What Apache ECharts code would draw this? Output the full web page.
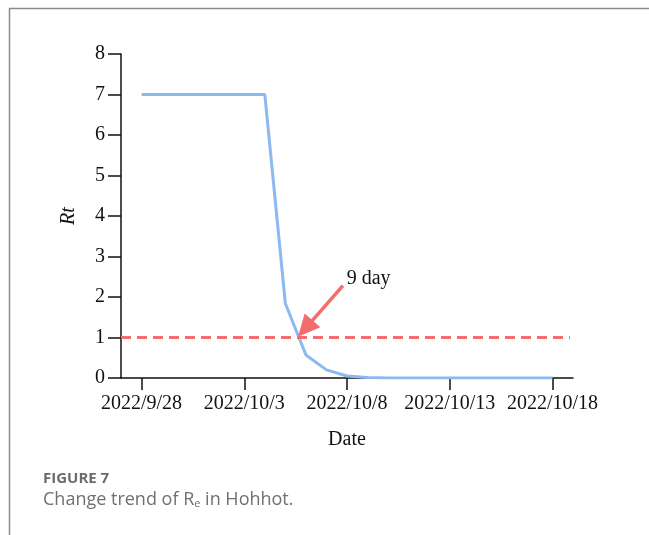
<!DOCTYPE html>
<html>
<head>
<meta charset="utf-8">
<title>Change trend of Re in Hohhot</title>
<script src="https://cdn.jsdelivr.net/npm/echarts@6/dist/echarts.min.js"></script>
<style>
  html, body { margin: 0; padding: 0; background: #fff; }
  #chart { width: 649px; height: 535px; }
</style>
</head>
<body>
<div id="chart"></div>
<script>
// day 0 = 2022/9/28
var dates = ["2022/9/28", "2022/9/29", "2022/9/30", "2022/10/1", "2022/10/2", "2022/10/3", "2022/10/4",
  "2022/10/5", "2022/10/6", "2022/10/7", "2022/10/8", "2022/10/9", "2022/10/10", "2022/10/11",
  "2022/10/12", "2022/10/13", "2022/10/14", "2022/10/15", "2022/10/16", "2022/10/17", "2022/10/18"]
var rtValues = [7, 7, 7, 7, 7, 7, 7, 1.84, 0.57, 0.2, 0.05, 0.01, 0, 0, 0, 0, 0, 0, 0, 0, 0]
var tickDays = [0, 5, 10, 15, 20]
var threshold = 1
// arrow from the label towards where Rt crosses 1 (end = centre of the arrow head)
var arrowFrom = [9.8, 2.28]
var arrowHead = [7.97, 1.22]
var arrowLabel = "9 day"
var arrowLabelAt = [11.05, 2.46]

var serif = "Liberation Serif"
var red = "#f46d6d"

var chart = echarts.init(document.getElementById("chart"))

var option = {
  animation: false,
  grid: { left: 121, right: 76, top: 54, bottom: 157 },
  xAxis: {
    type: "value",
    min: -1,
    max: 21,
    name: "Date",
    nameLocation: "middle",
    nameGap: 52,
    nameTextStyle: { fontFamily: serif, fontSize: 20, color: "#111" },
    splitLine: { show: false },
    axisLine: { onZero: false, lineStyle: { color: "#111", width: 1.5 } },
    axisTick: { show: true, customValues: tickDays, length: 12, lineStyle: { color: "#111", width: 1.5 } },
    axisLabel: {
      customValues: tickDays,
      margin: 16,
      fontFamily: serif,
      fontSize: 20,
      color: "#111",
      formatter: function (v) { return dates[v] }
    }
  },
  yAxis: {
    type: "value",
    min: 0,
    max: 8,
    interval: 1,
    name: "Rt",
    nameLocation: "middle",
    nameGap: 42,
    nameTextStyle: { fontFamily: serif, fontSize: 20, fontStyle: "italic", color: "#111" },
    splitLine: { show: false },
    axisLine: { show: true, onZero: false, lineStyle: { color: "#111", width: 1.5 } },
    axisTick: { show: true, length: 13, lineStyle: { color: "#111", width: 1.5 } },
    axisLabel: { margin: 16, fontFamily: serif, fontSize: 20, color: "#111" }
  },
  series: [
    {
      type: "line",
      data: rtValues.map(function (v, i) { return [i, v] }),
      symbol: "none",
      lineStyle: { color: "#8cb9f0", width: 3 },
      z: 3,
      markLine: {
        silent: true,
        symbol: "none",
        label: { show: false },
        lineStyle: { color: red, width: 3, type: [10, 6] },
        data: [[{ coord: [-1, threshold] }, { coord: [20.85, threshold] }]]
      }
    },
    {
      type: "line",
      data: [],
      markLine: {
        silent: true,
        symbol: ["none", "triangle"],
        symbolSize: [21, 22],
        label: { show: false },
        lineStyle: { color: red, width: 3.5, type: "solid" },
        data: [[{ coord: arrowFrom }, { coord: arrowHead }]]
      },
      markPoint: {
        silent: true,
        symbol: "circle",
        symbolSize: 0,
        label: { show: true, position: "inside", formatter: arrowLabel, fontFamily: serif, fontSize: 20, color: "#111" },
        data: [{ coord: arrowLabelAt }]
      },
      z: 5
    }
  ],
  graphic: [
    { type: "line", shape: { x1: 9, y1: 8.5, x2: 649, y2: 8.5 }, style: { stroke: "#8a8a8a", lineWidth: 1.5 } },
    { type: "line", shape: { x1: 9.5, y1: 8, x2: 9.5, y2: 535 }, style: { stroke: "#8a8a8a", lineWidth: 1.5 } },
    {
      type: "text", left: 43, top: 471,
      style: { text: "FIGURE 7", font: "bold 15px 'Open Sans'", fill: "#6b6b6b" }
    },
    {
      type: "text", left: 43, top: 491,
      style: {
        text: "{a|Change trend of R}{s|e}{a| in Hohhot.}",
        rich: {
          a: { fontFamily: "Open Sans", fontSize: 18, fill: "#707070", color: "#707070" },
          s: { fontFamily: "Open Sans", fontSize: 11, fill: "#707070", color: "#707070", verticalAlign: "bottom", padding: [8, 0, 0, 0] }
        }
      }
    }
  ]
}

chart.setOption(option)
</script>
</body>
</html>
